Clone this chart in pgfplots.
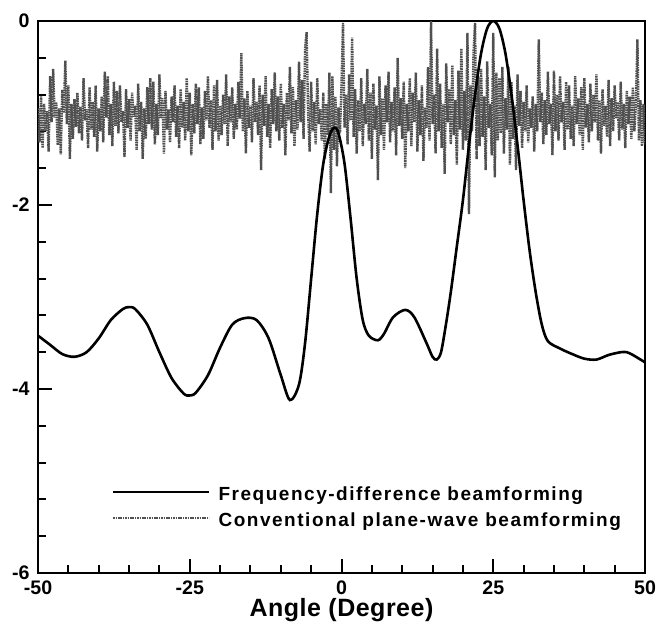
\documentclass[border=0pt]{standalone}
\usepackage{pgfplots}
\pgfplotsset{compat=1.18}
\usepackage{fontspec}
\setmainfont{Liberation Sans}
\newfontfamily\legfont[LetterSpace=8]{Liberation Sans}
\newfontfamily\labfont[LetterSpace=2]{Liberation Sans}
\definecolor{noisegray}{RGB}{80,80,80}
\begin{document}
\begin{tikzpicture}
\useasboundingbox (-19pt,-25pt) rectangle (309.5pt,286.5pt);
\begin{axis}[
  scale only axis,
  width=303.5pt, height=276pt,
  xmin=-50, xmax=50, ymin=-6, ymax=0,
  axis line style={line width=1.3pt},
  tick align=inside,
  xtick={-50,-25,0,25,50},
  xticklabels={-50,-25,0,25,50},
  ytick={-6,-4,-2,0},
  yticklabels={-6,-4,-2,0},
  xtick pos=left, ytick pos=left,
  minor x tick num=4,
  minor y tick num=4,
  major tick length=6.8pt,
  minor tick length=4.2pt,
  tick style={black, line width=1pt},
  tick label style={font=\fontsize{9.8}{11}\selectfont\bfseries},
  xticklabel style={yshift=-0.4pt},
  yticklabel style={xshift=-0.7pt},
  xlabel={\labfont\fontsize{12.5}{14}\selectfont\bfseries Angle (Degree)},
  xlabel style={at={(axis description cs:0.5,0)}, anchor=base, yshift=-21.9pt},
  reverse legend,
  legend cell align=left,
  legend image code/.code={\draw[#1] (0pt,1.6pt) -- (48pt,1.6pt); \path (0pt,-1.6pt);},
  legend style={draw=none, fill=none, inner sep=0pt, outer sep=0pt,
    at={(axis description cs:0.1219,0.1601)}, anchor=north west,
    column sep=4pt, row sep=2.5pt,
    nodes={inner sep=0pt, text height=8pt, text depth=2.5pt},
    font=\legfont\fontsize{9.5}{11}\selectfont\bfseries},
]
\addplot[color=noisegray, line width=1.2pt, dash pattern=on 0.8pt off 0.4pt] coordinates {
(-50,-0.95) (-49.75,-1.32) (-49.5,-0.82) (-49.25,-1.38) (-49,-0.9) (-48.75,-1.2) (-48.5,-0.98) (-48.25,-1.42)
(-48,-0.6) (-47.75,-1.1) (-47.5,-0.52) (-47.25,-1.05) (-47,-0.88) (-46.75,-1.35) (-46.5,-0.95) (-46.25,-1.45)
(-46,-0.75) (-45.75,-1.0) (-45.5,-0.43) (-45.25,-1.12) (-45,-0.7) (-44.75,-1.5) (-44.5,-0.9) (-44.25,-1.28)
(-44,-0.85) (-43.75,-1.15) (-43.5,-0.78) (-43.25,-1.22) (-43,-0.93) (-42.75,-1.3) (-42.5,-0.62) (-42.25,-1.08)
(-42,-0.96) (-41.75,-1.38) (-41.5,-0.72) (-41.25,-1.18) (-41,-0.88) (-40.75,-1.26) (-40.5,-0.7) (-40.25,-1.42)
(-40,-0.95) (-39.75,-1.2) (-39.5,-0.82) (-39.25,-1.32) (-39,-0.55) (-38.75,-1.05) (-38.5,-0.6) (-38.25,-1.24)
(-38,-0.9) (-37.75,-1.36) (-37.5,-0.66) (-37.25,-1.14) (-37,-0.76) (-36.75,-1.22) (-36.5,-0.7) (-36.25,-1.1)
(-36,-0.98) (-35.75,-1.48) (-35.5,-0.74) (-35.25,-1.16) (-35,-0.85) (-34.75,-1.3) (-34.5,-0.78) (-34.25,-1.04)
(-34,-0.92) (-33.75,-1.4) (-33.5,-0.68) (-33.25,-1.2) (-33,-0.88) (-32.75,-1.5) (-32.5,-0.95) (-32.25,-1.28)
(-32,-0.72) (-31.75,-1.12) (-31.5,-0.62) (-31.25,-1.18) (-31,-0.66) (-30.75,-1.34) (-30.5,-0.9) (-30.25,-1.24)
(-30,-0.58) (-29.75,-1.06) (-29.5,-0.84) (-29.25,-1.44) (-29,-0.76) (-28.75,-1.18) (-28.5,-0.96) (-28.25,-1.32)
(-28,-0.82) (-27.75,-1.1) (-27.5,-0.7) (-27.25,-1.26) (-27,-0.92) (-26.75,-1.38) (-26.5,-0.74) (-26.25,-1.16)
(-26,-0.88) (-25.75,-1.3) (-25.5,-0.62) (-25.25,-1.2) (-25,-0.78) (-24.75,-1.46) (-24.5,-0.9) (-24.25,-1.22)
(-24,-0.68) (-23.75,-1.12) (-23.5,-0.72) (-23.25,-1.34) (-23,-0.94) (-22.75,-1.28) (-22.5,-0.76) (-22.25,-1.08)
(-22,-0.6) (-21.75,-1.16) (-21.5,-0.86) (-21.25,-1.4) (-21,-0.7) (-20.75,-1.2) (-20.5,-0.64) (-20.25,-1.3)
(-20,-0.92) (-19.75,-1.24) (-19.5,-0.8) (-19.25,-1.12) (-19,-0.58) (-18.75,-1.36) (-18.5,-0.82) (-18.25,-1.1)
(-18,-0.72) (-17.75,-1.28) (-17.5,-0.9) (-17.25,-1.18) (-17,-0.66) (-16.75,-1.06) (-16.5,-0.35) (-16.25,-1.2)
(-16,-0.84) (-15.75,-1.44) (-15.5,-0.76) (-15.25,-1.16) (-15,-0.92) (-14.75,-1.32) (-14.5,-0.62) (-14.25,-1.1)
(-14,-0.88) (-13.75,-1.24) (-13.5,-0.7) (-13.25,-1.62) (-13,-0.8) (-12.75,-1.14) (-12.5,-0.6) (-12.25,-1.26)
(-12,-0.9) (-11.75,-1.38) (-11.5,-0.74) (-11.25,-1.12) (-11,-0.56) (-10.75,-1.2) (-10.5,-0.82) (-10.25,-1.3)
(-10,-0.68) (-9.75,-1.16) (-9.5,-0.9) (-9.25,-1.46) (-9,-0.78) (-8.75,-1.08) (-8.5,-0.5) (-8.25,-1.22)
(-8,-0.72) (-7.75,-1.36) (-7.5,-0.86) (-7.25,-1.18) (-7,-0.44) (-6.75,-1.1) (-6.5,-0.64) (-6.25,-1.28)
(-6,-0.3) (-5.75,-0.12) (-5.5,-1.0) (-5.25,-1.42) (-5,-0.66) (-4.75,-1.2) (-4.5,-0.88) (-4.25,-1.34)
(-4,-0.62) (-3.75,-1.12) (-3.5,-0.96) (-3.25,-1.3) (-3,-0.78) (-2.75,-1.5) (-2.5,-0.9) (-2.25,-1.24)
(-2,-0.56) (-1.75,-1.87) (-1.5,-0.6) (-1.25,-1.4) (-1,-0.82) (-0.75,-1.58) (-0.5,-0.94) (-0.25,-1.22)
(0,-0.7) (0.25,-0.02) (0.5,-1.16) (0.75,-0.8) (1,-1.34) (1.25,-0.58) (1.5,-1.08) (1.75,-0.18)
(2,-1.26) (2.25,-0.74) (2.5,-1.44) (2.75,-0.86) (3,-1.2) (3.25,-0.62) (3.5,-1.36) (3.75,-0.9)
(4,-1.12) (4.25,-0.52) (4.5,-1.3) (4.75,-0.78) (5,-1.5) (5.25,-0.68) (5.5,-1.18) (5.75,-0.92)
(6,-1.73) (6.25,-0.6) (6.5,-1.24) (6.75,-0.84) (7,-1.4) (7.25,-0.7) (7.5,-1.1) (7.75,-0.55)
(8,-1.32) (8.25,-0.88) (8.5,-1.2) (8.75,-0.72) (9,-1.46) (9.25,-0.4) (9.5,-1.14) (9.75,-0.84)
(10,-1.28) (10.25,-0.66) (10.5,-1.6) (10.75,-0.9) (11,-1.2) (11.25,-0.62) (11.5,-1.36) (11.75,-0.78)
(12,-1.1) (12.25,-0.56) (12.5,-1.42) (12.75,-0.86) (13,-1.24) (13.25,-0.7) (13.5,-1.52) (13.75,-0.94)
(14,-1.16) (14.25,-0.5) (14.5,-1.3) (14.75,-0.0) (15,-1.12) (15.25,-0.8) (15.5,-1.44) (15.75,-0.3)
(16,-1.2) (16.25,-0.68) (16.5,-1.38) (16.75,-0.9) (17,-1.66) (17.25,-0.46) (17.5,-1.1) (17.75,-0.74)
(18,-1.34) (18.25,-0.48) (18.5,-1.24) (18.75,-0.86) (19,-1.56) (19.25,-0.54) (19.5,-1.18) (19.75,-0.3)
(20,-1.4) (20.25,-0.76) (20.5,-1.3) (20.75,-0.13) (21,-2.1) (21.25,-0.7) (21.5,-1.2) (21.75,-0.35)
(22,-0.02) (22.25,-1.5) (22.5,-0.6) (22.75,-1.36) (23,-0.52) (23.25,-1.26) (23.5,-0.82) (23.75,-1.62)
(24,-0.44) (24.25,-1.16) (24.5,-0.9) (24.75,-1.46) (25,-0.13) (25.25,-1.7) (25.5,-0.56) (25.75,-1.3)
(26,-0.62) (26.25,-1.22) (26.5,-0.5) (26.75,-1.44) (27,-0.84) (27.25,-1.18) (27.5,-0.5) (27.75,-1.56)
(28,-0.66) (28.25,-1.28) (28.5,-0.92) (28.75,-1.62) (29,-0.58) (29.25,-1.14) (29.5,-0.76) (29.75,-1.38)
(30,-0.88) (30.25,-1.2) (30.5,-0.7) (30.75,-1.32) (31,-0.95) (31.25,-1.16) (31.5,-0.82) (31.75,-1.42)
(32,-0.9) (32.25,-1.2) (32.5,-0.2) (32.75,-1.1) (33,-0.78) (33.25,-1.34) (33.5,-0.86) (33.75,-1.24)
(34,-0.55) (34.25,-1.12) (34.5,-0.9) (34.75,-1.46) (35,-0.54) (35.25,-1.2) (35.5,-0.8) (35.75,-1.3)
(36,-0.6) (36.25,-1.1) (36.5,-0.88) (36.75,-1.4) (37,-0.66) (37.25,-1.18) (37.5,-0.7) (37.75,-1.28)
(38,-0.92) (38.25,-1.36) (38.5,-0.6) (38.75,-1.12) (39,-0.84) (39.25,-1.24) (39.5,-0.72) (39.75,-1.4)
(40,-0.62) (40.25,-1.16) (40.5,-0.9) (40.75,-1.32) (41,-0.68) (41.25,-1.2) (41.5,-0.8) (41.75,-1.1)
(42,-0.58) (42.25,-1.3) (42.5,-0.86) (42.75,-1.44) (43,-0.74) (43.25,-1.14) (43.5,-0.92) (43.75,-1.26)
(44,-0.64) (44.25,-1.36) (44.5,-0.84) (44.75,-1.2) (45,-0.7) (45.25,-1.06) (45.5,-0.88) (45.75,-1.3)
(46,-0.66) (46.25,-1.18) (46.5,-0.9) (46.75,-1.38) (47,-0.76) (47.25,-1.12) (47.5,-0.82) (47.75,-1.28)
(48,-0.72) (48.25,-1.2) (48.5,-0.9) (48.75,-0.2) (49,-1.3) (49.25,-0.86) (49.5,-1.36) (49.75,-0.9)
(50,-1.34)
};
\addlegendentry{Conventional plane-wave beamforming}
\addplot[black, line width=1.3pt, smooth] coordinates {
(-50,-3.42) (-48,-3.52) (-46,-3.62) (-44,-3.65) (-42,-3.60) (-40,-3.45) (-38,-3.25) (-36,-3.13)
(-35,-3.11) (-34,-3.13) (-32,-3.30) (-30,-3.60) (-28,-3.88) (-26,-4.05) (-25,-4.07) (-24,-4.04)
(-22,-3.85) (-20,-3.55) (-18,-3.30) (-16,-3.23) (-14,-3.25) (-12,-3.45) (-10,-3.85) (-8.5,-4.12)
(-7,-3.95) (-6,-3.5) (-5,-2.8) (-4,-2.1) (-3,-1.55) (-2,-1.25) (-1.2,-1.16) (-0.5,-1.22)
(0.5,-1.55) (1.5,-2.15) (2.5,-2.8) (3.5,-3.25) (4.5,-3.42) (6,-3.47) (7,-3.40) (8.5,-3.22)
(10.5,-3.14) (12,-3.22) (14,-3.50) (15,-3.65) (15.7,-3.68) (16.4,-3.6) (17.2,-3.3) (18,-2.95)
(19,-2.45) (20,-1.95) (21,-1.35) (22,-0.8) (23,-0.35) (24,-0.08) (25,0) (26,-0.08) (27,-0.35) (28,-0.8)
(29,-1.35) (30,-1.95) (31,-2.5) (32,-2.95) (33,-3.3) (34,-3.48) (36,-3.56) (38,-3.62)
(40,-3.67) (42,-3.68) (44,-3.63) (46,-3.60) (47,-3.60) (48,-3.63) (50,-3.71)
};
\addlegendentry{Frequency-difference beamforming}
\end{axis}
\end{tikzpicture}
\end{document}
